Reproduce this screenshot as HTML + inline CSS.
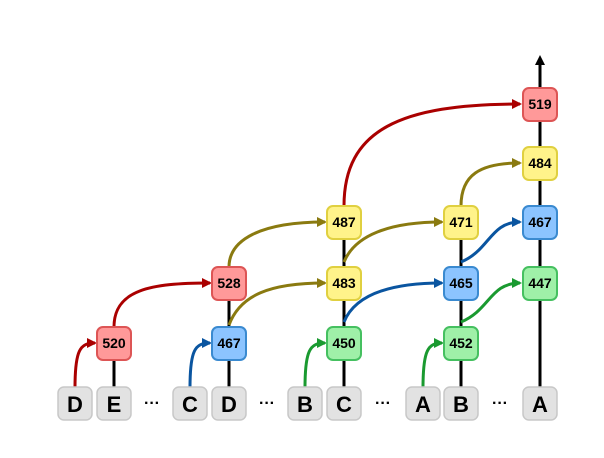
<!DOCTYPE html>
<html><head><style>body{margin:0;background:#fff}svg{display:block}</style></head><body>
<svg width="604" height="458" viewBox="0 0 604 458" font-family="Liberation Sans, sans-serif" font-weight="bold">
<defs>
<marker id="ar" markerWidth="10" markerHeight="10" refX="8" refY="5" orient="auto" markerUnits="userSpaceOnUse"><path d="M0,0 L10,5 L0,10 z" fill="#a00"/></marker>
<marker id="ab" markerWidth="10" markerHeight="10" refX="8" refY="5" orient="auto" markerUnits="userSpaceOnUse"><path d="M0,0 L10,5 L0,10 z" fill="#0a55a0"/></marker>
<marker id="ag" markerWidth="10" markerHeight="10" refX="8" refY="5" orient="auto" markerUnits="userSpaceOnUse"><path d="M0,0 L10,5 L0,10 z" fill="#1a9a30"/></marker>
<marker id="ay" markerWidth="10" markerHeight="10" refX="8" refY="5" orient="auto" markerUnits="userSpaceOnUse"><path d="M0,0 L10,5 L0,10 z" fill="#8a7a10"/></marker>
<marker id="ak" markerWidth="10" markerHeight="10" refX="7" refY="5" orient="auto" markerUnits="userSpaceOnUse"><path d="M0,0 L10,5 L0,10 z" fill="#000"/></marker>
</defs>
<g stroke="#000" stroke-width="3">
<line x1="114" y1="388" x2="114" y2="359"/>
<line x1="229" y1="388" x2="229" y2="299"/>
<line x1="344" y1="388" x2="344" y2="238"/>
<line x1="461" y1="388" x2="461" y2="238"/>
<line x1="540" y1="388" x2="540" y2="58" marker-end="url(#ak)"/>
</g>
<g fill="none" stroke-width="3">
<path d="M75,388 C75,350 80,343 95,343" stroke="#a00" marker-end="url(#ar)"/>
<path d="M190,388 C190,350 195,343 210,343" stroke="#0a55a0" marker-end="url(#ab)"/>
<path d="M305,388 C305,350 310,343 325,343" stroke="#1a9a30" marker-end="url(#ag)"/>
<path d="M423,388 C423,350 428,343 442,343" stroke="#1a9a30" marker-end="url(#ag)"/>
<path d="M114,327 C114,290 150,283 210,283" stroke="#a00" marker-end="url(#ar)"/>
<path d="M229,267 C229,240 260,222 325,222" stroke="#8a7a10" marker-end="url(#ay)"/>
<path d="M229,325 C240,295 270,283 325,283" stroke="#8a7a10" marker-end="url(#ay)"/>
<path d="M344,262 C355,235 390,222 442,222" stroke="#8a7a10" marker-end="url(#ay)"/>
<path d="M344,322 C355,295 390,283 442,283" stroke="#0a55a0" marker-end="url(#ab)"/>
<path d="M461,262 C490,250 490,222 520,222" stroke="#0a55a0" marker-end="url(#ab)"/>
<path d="M461,322 C490,310 490,283 520,283" stroke="#1a9a30" marker-end="url(#ag)"/>
<path d="M461,206 C461,175 480,163 520,163" stroke="#8a7a10" marker-end="url(#ay)"/>
<path d="M344,206 C344,130 400,104 520,104" stroke="#a00" marker-end="url(#ar)"/>
</g>
<g font-size="14" text-anchor="middle" stroke-width="2">
<g fill="#f99" stroke="#d55">
<rect x="97" y="327" width="34" height="33" rx="6"/><rect x="212" y="267" width="34" height="33" rx="6"/><rect x="523" y="88" width="34" height="33" rx="6"/>
</g>
<g fill="#8cc4ff" stroke="#3a8ad0">
<rect x="212" y="327" width="34" height="33" rx="6"/><rect x="444" y="267" width="34" height="33" rx="6"/><rect x="523" y="206" width="34" height="33" rx="6"/>
</g>
<g fill="#9ff0a8" stroke="#45c060">
<rect x="327" y="327" width="34" height="33" rx="6"/><rect x="444" y="327" width="34" height="33" rx="6"/><rect x="523" y="267" width="34" height="33" rx="6"/>
</g>
<g fill="#fff38a" stroke="#e0d040">
<rect x="327" y="206" width="34" height="33" rx="6"/><rect x="327" y="267" width="34" height="33" rx="6"/><rect x="444" y="206" width="34" height="33" rx="6"/><rect x="523" y="147" width="34" height="33" rx="6"/>
</g>
<g fill="#000">
<text x="114" y="348">520</text><text x="229" y="288">528</text><text x="540" y="109">519</text>
<text x="229" y="348">467</text><text x="461" y="288">465</text><text x="540" y="227">467</text>
<text x="344" y="348">450</text><text x="461" y="348">452</text><text x="540" y="288">447</text>
<text x="344" y="227">487</text><text x="344" y="288">483</text><text x="461" y="227">471</text><text x="540" y="168">484</text>
</g>
</g>
<g fill="#e2e2e2" stroke="#c8c8c8" stroke-width="1.5">
<rect x="58" y="387" width="34" height="33" rx="6"/><rect x="97" y="387" width="34" height="33" rx="6"/>
<rect x="173" y="387" width="34" height="33" rx="6"/><rect x="212" y="387" width="34" height="33" rx="6"/>
<rect x="288" y="387" width="34" height="33" rx="6"/><rect x="327" y="387" width="34" height="33" rx="6"/>
<rect x="406" y="387" width="34" height="33" rx="6"/><rect x="444" y="387" width="34" height="33" rx="6"/>
<rect x="523" y="387" width="34" height="33" rx="6"/>
</g>
<g font-size="22" text-anchor="middle" fill="#000">
<text x="75" y="412">D</text><text x="114" y="412">E</text><text x="190" y="412">C</text><text x="229" y="412">D</text>
<text x="305" y="412">B</text><text x="344" y="412">C</text><text x="423" y="412">A</text><text x="461" y="412">B</text><text x="540" y="412">A</text>
<text x="152" y="408" font-size="16">···</text><text x="267" y="408" font-size="16">···</text><text x="383" y="408" font-size="16">···</text><text x="500" y="408" font-size="16">···</text>
</g>
</svg>
</body></html>
